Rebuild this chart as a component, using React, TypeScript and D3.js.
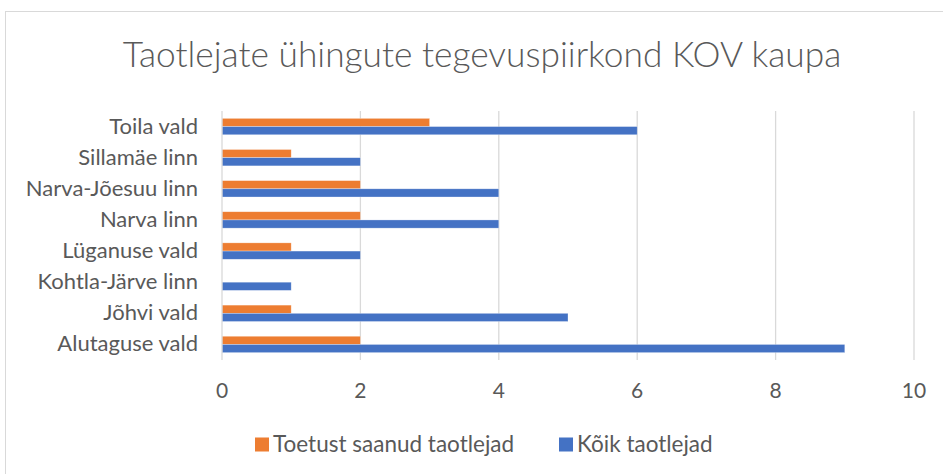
import React from "react";
import * as d3 from "d3";

const categories = [
  "Toila vald",
  "Sillamäe linn",
  "Narva-Jõesuu linn",
  "Narva linn",
  "Lüganuse vald",
  "Kohtla-Järve linn",
  "Jõhvi vald",
  "Alutaguse vald",
];
const supported = [3, 1, 2, 2, 1, 0, 1, 2];
const allApplicants = [6, 2, 4, 4, 2, 1, 5, 9];
const xTicks = [0, 2, 4, 6, 8, 10];
const seriesNames = ["Toetust saanud taotlejad", "Kõik taotlejad"];
const colors = ["#ED7D31", "#4472C4"];

const W = 943;
const H = 474;
const plot = { left: 222, right: 914, top: 111, bottom: 360 };
const FONT = "Lato, 'Open Sans', sans-serif";
const TEXT = "#595959";

export default function App() {
  const x = d3.scaleLinear().domain([0, 10]).range([plot.left, plot.right]);
  const y = d3
    .scaleBand<string>()
    .domain(categories)
    .range([plot.top, plot.bottom])
    .paddingInner(0)
    .paddingOuter(0);
  const bw = y.bandwidth();
  const barH = 8.2;
  const series = [supported, allApplicants];
  const legendItems = [
    { sq: 255, tx: 273 },
    { sq: 559, tx: 577 },
  ];

  return (
    <svg
      width={W}
      height={H}
      style={{ position: "absolute", left: 0, top: 0, background: "#fff" }}
      fontFamily={FONT}
    >
      <rect x={0} y={0} width={W} height={H} fill="#fff" />
      <rect
        x={5.5}
        y={11.5}
        width={960}
        height={500}
        fill="#fff"
        stroke="#d9d9d9"
        strokeWidth={1}
      />
      <text
        x={482}
        y={67}
        textAnchor="middle"
        fontSize={35.3}
        fill={TEXT}
        fontWeight={300}
      >
        Taotlejate ühingute tegevuspiirkond KOV kaupa
      </text>
      {xTicks.map((t) => (
        <g key={t}>
          {t !== 0 && (
            <line
              x1={x(t)}
              x2={x(t)}
              y1={plot.top}
              y2={plot.bottom}
              stroke="#d9d9d9"
              strokeWidth={1.3}
            />
          )}
          <text
            x={x(t)}
            y={398}
            textAnchor="middle"
            fontSize={21}
            fill={TEXT}
          >
            {t}
          </text>
        </g>
      ))}
      {categories.map((c, i) => {
        const center = (y(c) as number) + bw / 2;
        return (
          <g key={c}>
            <text
              x={198}
              y={center + 7}
              textAnchor="end"
              fontSize={22}
              fill={TEXT}
            >
              {c}
            </text>
            {series.map((s, si) => (
              <rect
                key={si}
                x={x(0)}
                y={center - barH + si * barH}
                width={x(s[i]) - x(0)}
                height={barH}
                fill={colors[si]}
                stroke={s[i] > 0 ? "#ffffff" : "none"}
                strokeOpacity={0.5}
                strokeWidth={0.6}
              />
            ))}
          </g>
        );
      })}
      <line
        x1={x(0)}
        x2={x(0)}
        y1={plot.top}
        y2={plot.bottom}
        stroke="#d9d9d9"
        strokeWidth={1.3}
      />
      <g>
        {legendItems.map((li, i) => (
          <g key={i}>
            <rect x={li.sq} y={437.5} width={14} height={14} fill={colors[i]} />
            <text x={li.tx} y={452} fontSize={22.5} fill={TEXT}>
              {seriesNames[i]}
            </text>
          </g>
        ))}
      </g>
    </svg>
  );
}
